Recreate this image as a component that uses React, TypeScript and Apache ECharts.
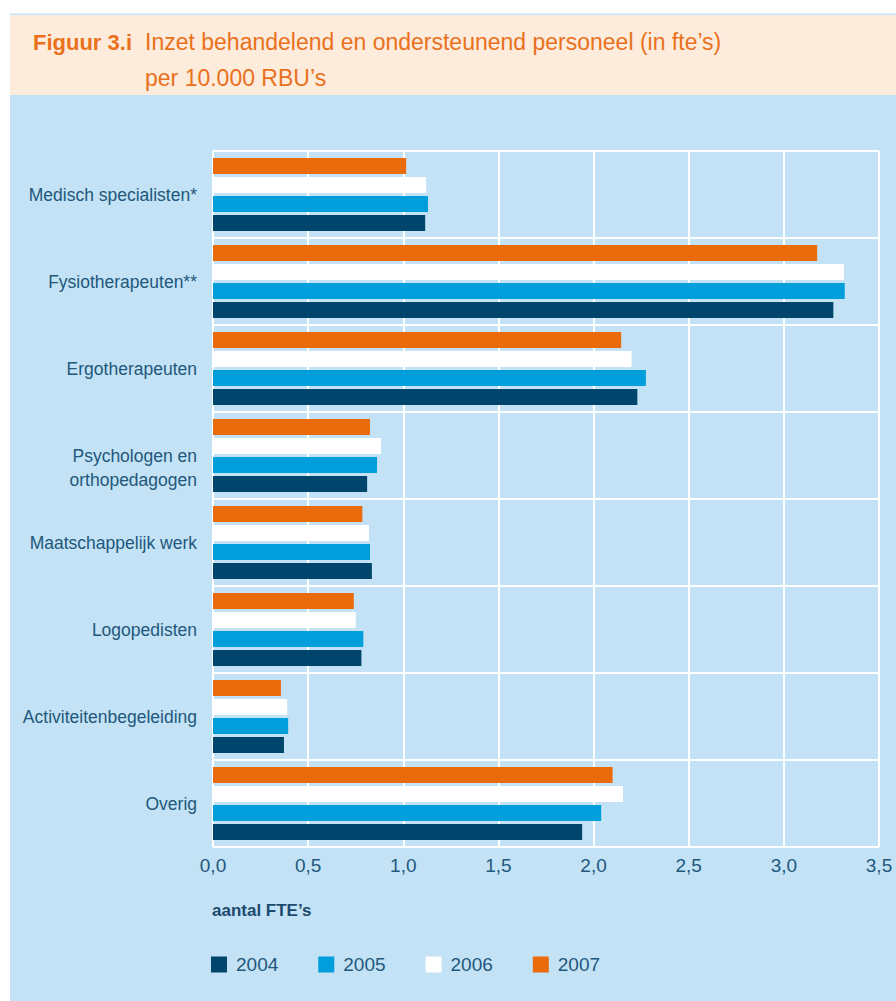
import React, { useEffect, useRef } from 'react';
import * as echarts from 'echarts';

const categories = [
  'Medisch specialisten*',
  'Fysiotherapeuten**',
  'Ergotherapeuten',
  'Psychologen en\northopedagogen',
  'Maatschappelijk werk',
  'Logopedisten',
  'Activiteitenbegeleiding',
  'Overig',
];
const years = ['2004', '2005', '2006', '2007'];
const v2004 = [1.115, 3.26, 2.23, 0.81, 0.835, 0.78, 0.373, 1.94];
const v2005 = [1.13, 3.32, 2.275, 0.862, 0.825, 0.79, 0.395, 2.04];
const v2006 = [1.12, 3.315, 2.2, 0.883, 0.82, 0.75, 0.39, 2.155];
const v2007 = [1.015, 3.175, 2.145, 0.825, 0.785, 0.74, 0.357, 2.1];
const xMin = 0;
const xMax = 3.5;
const xStep = 0.5;

const COLORS: Record<string, string> = {
  '2004': '#00456b',
  '2005': '#009edb',
  '2006': '#ffffff',
  '2007': '#ea6b0c',
};
const FONT = '"Liberation Sans", Arial, sans-serif';
const TXT = '#22587c';
const ORANGE = '#e9711c';

export default function App() {
  const ref = useRef<HTMLDivElement>(null);
  useEffect(() => {
    if (!ref.current) return;
    const chart = echarts.init(ref.current, undefined, { renderer: 'svg' });
    const seriesValues: Record<string, number[]> = {
      '2004': v2004,
      '2005': v2005,
      '2006': v2006,
      '2007': v2007,
    };
    // top-to-bottom inside each category band: 2007, 2006, 2005, 2004
    const order = ['2007', '2006', '2005', '2004'];
    chart.setOption({
      animation: false,
      backgroundColor: '#ffffff',
      textStyle: { fontFamily: FONT },
      graphic: [
        { type: 'rect', z: -100, shape: { x: 10, y: 13.5, width: 886, height: 1.5 }, style: { fill: '#c3e2f5' } },
        { type: 'rect', z: -100, shape: { x: 10, y: 15, width: 886, height: 80 }, style: { fill: '#fdebdc' } },
        { type: 'rect', z: -100, shape: { x: 10, y: 95, width: 886, height: 906 }, style: { fill: '#c3e2f5' } },
        {
          type: 'text', x: 33, y: 42,
          style: { text: 'Figuur 3.i', fill: ORANGE, font: `bold 22px ${FONT}`, verticalAlign: 'middle' },
        },
        {
          type: 'text', x: 145, y: 42,
          style: { text: 'Inzet behandelend en ondersteunend personeel (in fte’s)', fill: ORANGE, font: `23px ${FONT}`, verticalAlign: 'middle' },
        },
        {
          type: 'text', x: 145, y: 78,
          style: { text: 'per 10.000 RBU’s', fill: ORANGE, font: `23px ${FONT}`, verticalAlign: 'middle' },
        },
        {
          type: 'text', x: 212, y: 910,
          style: { text: 'aantal FTE’s', fill: '#1b4a6e', font: `bold 17px ${FONT}`, verticalAlign: 'middle' },
        },
      ],
      legend: {
        data: years,
        left: 206,
        top: 950,
        itemWidth: 16,
        itemHeight: 16,
        itemGap: 40,
        icon: 'rect',
        textStyle: { fontSize: 19, color: TXT, fontFamily: FONT, padding: [0, 0, 0, 4] },
      },
      grid: { left: 213, top: 151, width: 666, height: 696, containLabel: false, outerBoundsMode: 'none' },
      xAxis: {
        type: 'value',
        min: xMin,
        max: xMax,
        interval: xStep,
        axisLine: { show: false },
        axisTick: { show: false },
        splitLine: { show: true, lineStyle: { color: '#ffffff', width: 2 } },
        axisLabel: {
          margin: 9,
          fontSize: 19,
          color: TXT,
          fontFamily: FONT,
          formatter: (v: number) => v.toFixed(1).replace('.', ','),
        },
      },
      yAxis: {
        type: 'category',
        inverse: true,
        data: categories,
        axisLine: { show: false },
        axisTick: { show: false },
        splitLine: { show: true, interval: 0, lineStyle: { color: '#ffffff', width: 2 } },
        axisLabel: {
          margin: 16,
          fontSize: 17.5,
          lineHeight: 24,
          color: TXT,
          fontFamily: FONT,
          interval: 0,
          // two-line labels: first line sits on the band centre, second below it
          formatter: (v: string) => (v.includes('\n') ? ' \n' + v : v),
        },
      },
      series: order.map((y) => ({
        name: y,
        type: 'bar',
        data: seriesValues[y],
        barWidth: 16,
        barGap: '19%',
        itemStyle: { color: COLORS[y] },
      })),
    });
    return () => chart.dispose();
  }, []);
  return (
    <div
      ref={ref}
      style={{ position: 'absolute', left: 0, top: 0, width: 896, height: 1001 }}
    />
  );
}
